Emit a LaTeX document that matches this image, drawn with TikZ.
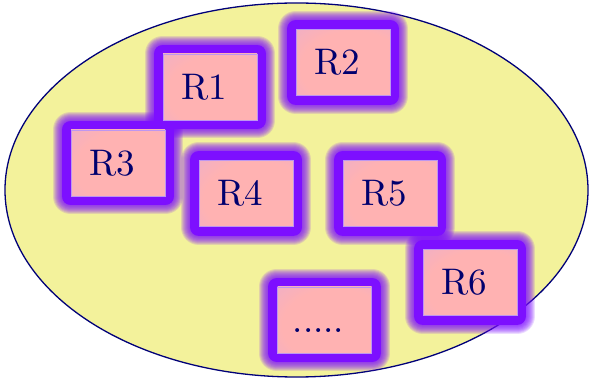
\documentclass[tikz,border=0pt]{standalone}
\usepackage{fontspec}
\setmainfont{lmroman10-regular.otf}
\usepackage{tikz}

\definecolor{ovalfill}{RGB}{243,242,155}
\definecolor{ovalline}{RGB}{0,0,120}
\definecolor{glowc}{RGB}{125,15,255}
\definecolor{boxin}{RGB}{255,178,178}
\definecolor{boxout}{RGB}{220,172,225}
\definecolor{boxline}{RGB}{190,150,240}
\definecolor{labc}{RGB}{0,0,110}
\pgfdeclareradialshading{boxshade}{\pgfpoint{8bp}{-6bp}}{color(0bp)=(boxin);color(28bp)=(boxin);color(62bp)=(boxout);color(90bp)=(boxout)}
\pgfdeclarelayer{back}
\pgfsetlayers{back,main}

\begin{document}
\begin{tikzpicture}[x=1pt,y=-1pt]
\tikzstyle{every node}=[font=\fontsize{37}{40}\selectfont,text=labc]
\tikzstyle{reg}=[draw=boxline,line width=0.8pt,inner sep=0pt,minimum width=94pt,minimum height=66pt,
  shading=boxshade,text height=25pt,text depth=0pt,execute at begin node={\kern-12pt}]
\tikzstyle{glow}=[draw=glowc,line join=round]
\useasboundingbox (0,0) rectangle (589,379);
\begin{pgfonlayer}{back}
\draw[ovalline,fill=ovalfill,line width=1.3pt] (296.5,190) ellipse (291.5 and 187);
\end{pgfonlayer}
\node[reg] (R1) at (210,87) {R1};
\node[reg] (R2) at (343,62.5) {R2};
\node[reg] (R3) at (118,163) {R3};
\node[reg] (R4) at (246,193.5) {R4};
\node[reg] (R5) at (390,193.5) {R5};
\node[reg] (R6) at (470,282.5) {R6};
\node[reg] (dots) at (324.5,320) {.....};
\begin{pgfonlayer}{back}
\foreach \n in {R1,R2,R3,R4,R5,R6,dots}{
  \foreach \w in {36,34,32,30,28,26,24,22,20}
    \draw[glow,line width=\w pt,draw opacity=.15] (\n.north west) rectangle (\n.south east);
  \draw[glow,line width=18pt] (\n.north west) rectangle (\n.south east);
}
\end{pgfonlayer}
\end{tikzpicture}
\end{document}
